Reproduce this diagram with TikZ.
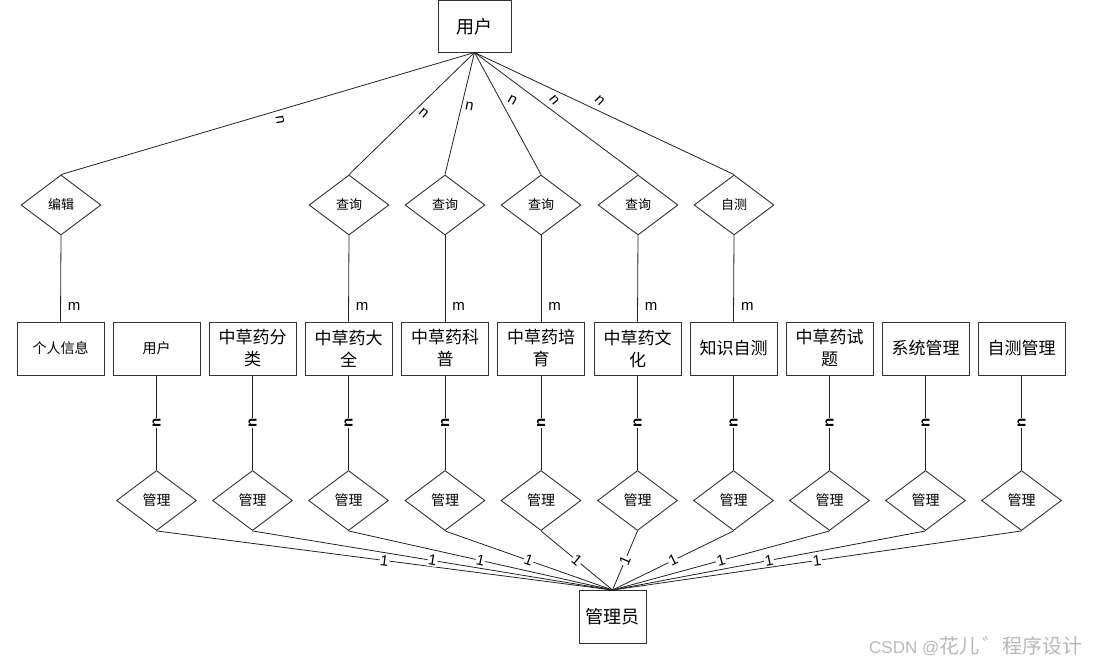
\documentclass[tikz,border=0pt]{standalone}
\usepackage{fontspec}
\setmainfont{Liberation Sans}
\newfontfamily\cjk{Noto Sans CJK SC}
\usetikzlibrary{shapes.geometric}
\definecolor{edgecol}{HTML}{222222}
\definecolor{boxcol}{HTML}{333333}
\tikzset{
  ent/.style={draw=boxcol, line width=1pt, fill=white, minimum width=87pt, minimum height=53pt,
    inner sep=0pt, align=center, font=\cjk\fontsize{17}{22}\selectfont},
  entsmall/.style={ent, font=\cjk\fontsize{14}{18}\selectfont},
  bigent/.style={ent, minimum width=73pt, minimum height=52pt, font=\cjk\fontsize{18}{22}\selectfont},
  rel/.style={diamond, draw=boxcol, line width=0.9pt, fill=white, minimum width=80pt, minimum height=60pt,
    inner sep=0pt, font=\cjk\fontsize{13}{16}\selectfont},
  relb/.style={rel, font=\cjk\fontsize{14}{17}\selectfont},
  conn/.style={draw=edgecol, line width=0.8pt},
  mlab/.style={font=\fontsize{15}{17}\selectfont, inner sep=0pt},
  nlab/.style={font=\fontsize{15}{17}\selectfont, inner sep=0.6pt},
  nlabb/.style={font=\bfseries\fontsize{15}{17}\selectfont, inner sep=0.3pt, fill=white},
  onelab/.style={font=\fontsize{15}{17}\selectfont, inner sep=0.8pt, fill=white, sloped},
}
\begin{document}
\begin{tikzpicture}[x=1pt, y=-1pt]
\useasboundingbox (0,0) rectangle (1097,663);
% top and bottom entities
\node[bigent] (user) at (474.5,26.5) {用户};
\node[bigent, minimum width=67pt, minimum height=53pt] (admin) at (612.5,616.5) {管理员};
% top relationships
\node[rel] (r1) at (61,205) {编辑};
\node[rel] (r2) at (349,205) {查询};
\node[rel] (r3) at (445,205) {查询};
\node[rel] (r4) at (541,205) {查询};
\node[rel] (r5) at (638,205) {查询};
\node[rel] (r6) at (734,205) {自测};
% middle entities
\node[entsmall] (e1) at (60.5,348.5) {个人信息};
\node[entsmall] (e2) at (156.5,348.5) {用户};
\node[ent] (e3) at (252.5,348.5) {中草药分\\类};
\node[ent] (e4) at (348.5,348.5) {中草药大\\全};
\node[ent] (e5) at (445,348.5) {中草药科\\普};
\node[ent] (e6) at (541,348.5) {中草药培\\育};
\node[ent] (e7) at (637.5,348.5) {中草药文\\化};
\node[ent] (e8) at (733.5,348.5) {知识自测};
\node[ent] (e9) at (829.5,348.5) {中草药试\\题};
\node[ent] (e10) at (925.5,348.5) {系统管理};
\node[ent] (e11) at (1021.5,348.5) {自测管理};
% bottom relationships
\node[relb] (m2) at (156.5,500.5) {管理};
\node[relb] (m3) at (252.5,500.5) {管理};
\node[relb] (m4) at (348.5,500.5) {管理};
\node[relb] (m5) at (445,500.5) {管理};
\node[relb] (m6) at (541,500.5) {管理};
\node[relb] (m7) at (637.5,500.5) {管理};
\node[relb] (m8) at (733.5,500.5) {管理};
\node[relb] (m9) at (829.5,500.5) {管理};
\node[relb] (m10) at (925.5,500.5) {管理};
\node[relb] (m11) at (1021.5,500.5) {管理};
% user to top relationships
\coordinate (us) at (474.5,52.5);
\path[conn] (us) -- (r1.north) node[nlab, pos=0.47, yshift=-10pt, rotate=-80] {n};
\path[conn] (us) -- (r2.north) node[nlab, pos=0.5, xshift=12pt, rotate=-40] {n};
\path[conn] (us) -- (r3.north) node[nlab, pos=0.44, xshift=8pt, rotate=-10] {n};
\path[conn] (us) -- (r4.north) node[nlab, pos=0.39, xshift=12pt, rotate=-30] {n};
\path[conn] (us) -- (r5.north) node[nlab, pos=0.39, xshift=16pt, rotate=-50] {n};
\path[conn] (us) -- (r6.north) node[nlab, pos=0.39, xshift=24pt, rotate=-45] {n};
% top relationships to entities
\foreach \r/\e in {r1/e1, r2/e4, r3/e5, r4/e6, r5/e7, r6/e8}{
  \path[conn] (\r.south) -- (\e.north) node[mlab, pos=0.82, anchor=west, xshift=7pt] {m};
}
% entities to bottom relationships
\foreach \i in {2,...,11}{
  \path[conn] (e\i.south) -- (m\i.north) node[nlabb, midway, rotate=90] {n};
}
% bottom relationships to admin
\coordinate (at) at (612.5,590);
\foreach \i in {2,...,11}{
  \path[conn] (m\i.south) -- (at) node[onelab, midway] {1};
}
% watermark
\node[anchor=west, inner sep=0pt, text=black!28, font=\fontsize{17}{19}\selectfont] (wm) at (869,646) {CSDN @{\cjk\fontsize{20}{22}\selectfont 花儿\,゛程序设计}};
\end{tikzpicture}
\end{document}
